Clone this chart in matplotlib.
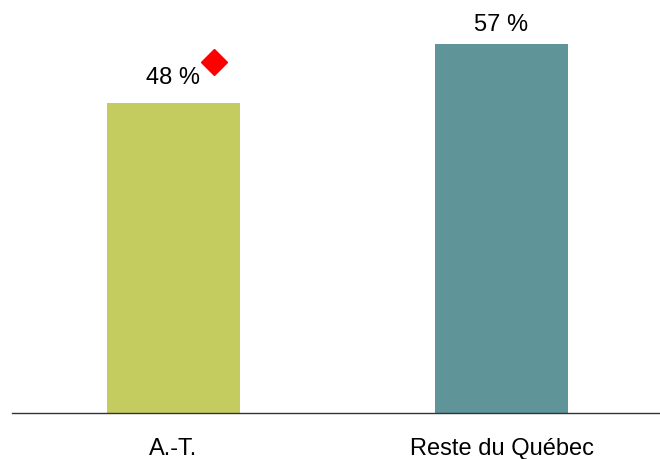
import matplotlib.pyplot as plt

plt.rcParams['font.family'] = ['Liberation Sans', 'DejaVu Sans']

categories = ['A.-T.', 'Reste du Québec']
values = [48, 57]
labels = ['48 %', '57 %']
colors = ['#C5CC5F', '#5F9499']
# marqueur rouge (différence significative) à côté du libellé A.-T.
marker_x = [0.125]
marker_y = [54.3]

fig = plt.figure(figsize=(6.6, 4.6), dpi=100)
ax = fig.add_axes([12/660, 46/460, 648/660, 414/460])

x = range(len(categories))
ax.bar(x, values, width=0.405, color=colors)
# le libellé de gauche est un peu plus haut pour laisser la place au losange
offsets = [4.0, 3.1]
for xi, v, lab, off in zip(x, values, labels, offsets):
    ax.text(xi, v + off, lab, ha='center', va='center', fontsize=17)
ax.plot(marker_x, marker_y, 'D', color='#FF0000', markersize=13)

ax.set_xlim(-0.492, 1.483)
ax.set_ylim(0, 64)
ax.set_xticks(list(x))
ax.set_xticklabels(categories, fontsize=17)
ax.tick_params(axis='x', length=0, pad=17)
ax.set_yticks([])
for s in ['top', 'right', 'left']:
    ax.spines[s].set_visible(False)
ax.spines['bottom'].set_color('#333333')
ax.spines['bottom'].set_linewidth(1)

fig.savefig('out.png', dpi=100)
